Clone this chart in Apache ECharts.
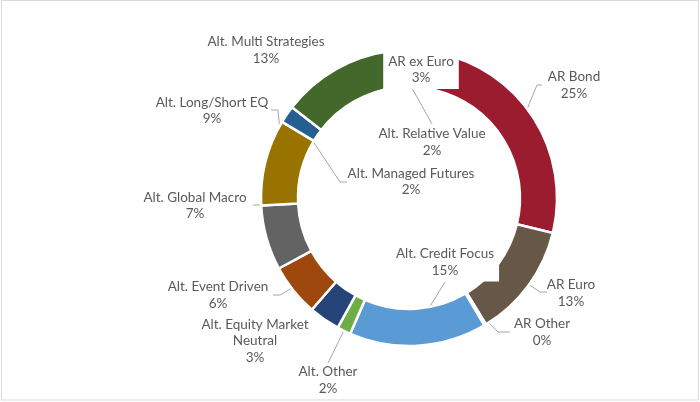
<!DOCTYPE html>
<html>
<head>
<meta charset="utf-8">
<script src="https://cdn.jsdelivr.net/npm/echarts@6/dist/echarts.min.js"></script>
<style>
html,body{margin:0;padding:0;background:#fff;}
#c{width:700px;height:402px;}
</style>
</head>
<body>
<div id="c"></div>
<script>
// ---- data (clockwise from 12 o'clock) ----
const categories = ['AR ex Euro','AR Bond','AR Euro','AR Other','Alt. Credit Focus','Alt. Other','Alt. Equity Market Neutral','Alt. Event Driven','Alt. Global Macro','Alt. Long/Short EQ','Alt. Managed Futures','Alt. Multi Strategies','Alt. Relative Value'];
const shares = [3.4, 25.4, 12.5, 0.2, 15, 1.5, 3.4, 5.7, 7.1, 9.4, 1.9, 12.6, 1.9];
const colors = ['#ffffff','#9b1c2f','#675747','#bfbfbf','#5b9bd5','#70ad47','#264478','#9e480e','#636363','#997300','#255e91','#43682b','#ffffff'];

// ---- layout (label placement, pixels) ----
const CX = 409, CY = 198, R0 = 111, R1 = 148, RM = (R0 + R1) / 2;
const labelPos = {
  'AR ex Euro': {x:421, y:69.5, bg:true},
  'AR Bond': {x:574, y:85, line:[[537,85],[542,85]]},
  'AR Euro': {x:571, y:293, line:[[540,292],[547,292]]},
  'AR Other': {x:542, y:332, line:[[498,332],[510,332]]},
  'Alt. Credit Focus': {x:445, y:262, bg:true, line:[[445,282],[445,282]]},
  'Alt. Other': {x:328, y:380, line:[[328,363],[328,363]]},
  'Alt. Equity Market Neutral': {x:255, y:341},
  'Alt. Event Driven': {x:218, y:295, line:[[280,295],[273,295]]},
  'Alt. Global Macro': {x:195, y:205.5, line:[[260,205],[253,205]]},
  'Alt. Long/Short EQ': {x:212, y:110.5, line:[[278,110],[271,110]]},
  'Alt. Managed Futures': {x:411, y:181.5, line:[[340,182],[347,182]]},
  'Alt. Multi Strategies': {x:266, y:50},
  'Alt. Relative Value': {x:432, y:142, clipY:88.5, line:[[432,124],[432,124]]}
};

const data = categories.map((name, i) => {
  const lp = labelPos[name];
  const item = { name: name, value: shares[i], itemStyle: { color: colors[i] } };
  if (!lp.line) item.labelLine = { show: false };
  if (lp.bg) item.label = { backgroundColor: '#ffffff', padding: [3, 5] };
  return item;
});

const chart = echarts.init(document.getElementById('c'), null, {renderer: 'canvas'});
chart.setOption({
  backgroundColor: '#ffffff',
  animation: false,
  graphic: [{
    type: 'rect', silent: true, z: -10,
    shape: {x: 1.5, y: 0.5, width: 697, height: 399.5},
    style: {fill: 'none', stroke: '#d9d9d9', lineWidth: 1}
  }],
  series: [{
    type: 'pie',
    center: [CX, CY],
    radius: [R0, R1],
    startAngle: 90,
    clockwise: true,
    avoidLabelOverlap: false,
    silent: true,
    itemStyle: { borderColor: '#ffffff', borderWidth: 2.5 },
    label: {
      show: true,
      position: 'outside',
      color: '#595959',
      fontFamily: 'Lato',
      fontSize: 13.5,
      lineHeight: 16.5,
      align: 'center',
      formatter: function (p) {
        const nm = p.name.replace('Market Neutral', 'Market\nNeutral');
        return nm + '\n' + Math.round(p.percent) + '%';
      }
    },
    labelLine: { show: true, length: 10, length2: 10, lineStyle: { color: '#a6a6a6', width: 1 } },
    labelLayout: function (p) {
      const name = categories[p.dataIndex];
      const lp = labelPos[name];
      const out = { x: lp.x, y: lp.y, align: 'center', verticalAlign: 'middle' };
      if (lp.line) {
        let a;
        if (p.labelLinePoints && p.labelLinePoints[0]) {
          const q = p.labelLinePoints[0];
          const dx = q[0] - CX, dy = q[1] - CY, d = Math.sqrt(dx*dx + dy*dy) || 1;
          a = [CX + dx / d * RM, CY + dy / d * RM];
        } else {
          a = [CX, CY - RM];
        }
        if (lp.clipY !== undefined && a[1] < lp.clipY) {
          const b = lp.line[0];
          const t = (b[1] - lp.clipY) / (b[1] - a[1]);
          a = [b[0] + (a[0] - b[0]) * t, lp.clipY];
        }
        out.labelLinePoints = [a, lp.line[0], lp.line[1]];
      }
      return out;
    },
    data: data
  }]
});
</script>
</body>
</html>
